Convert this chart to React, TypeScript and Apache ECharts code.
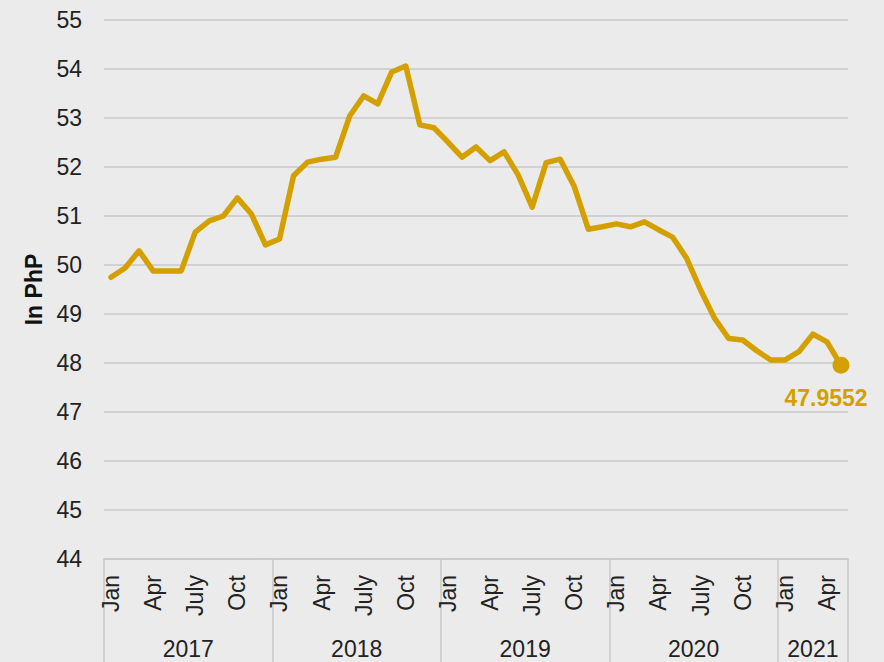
import React, { useEffect, useRef } from "react";
import * as echarts from "echarts";

const monthNames = ["Jan", "Feb", "Mar", "Apr", "May", "Jun", "July", "Aug", "Sep", "Oct", "Nov", "Dec"];
const shownMonths = ["Jan", "Apr", "July", "Oct"];
const years = ["2017", "2018", "2019", "2020", "2021"];
const monthsPerYear = [12, 12, 12, 12, 5];

const rate2017 = [49.75, 49.94, 50.29, 49.88, 49.88, 49.88, 50.67, 50.9, 51.0, 51.37, 51.04, 50.41];
const rate2018 = [50.53, 51.82, 52.1, 52.16, 52.2, 53.04, 53.45, 53.29, 53.94, 54.06, 52.86, 52.8];
const rate2019 = [52.51, 52.2, 52.41, 52.13, 52.31, 51.84, 51.18, 52.09, 52.16, 51.6, 50.73, 50.78];
const rate2020 = [50.84, 50.78, 50.88, 50.72, 50.57, 50.14, 49.49, 48.91, 48.5, 48.47, 48.25, 48.06];
const rate2021 = [48.06, 48.23, 48.59, 48.43, 47.9552];

const yMin = 44;
const yMax = 55;
const yStep = 1;

const FONT = "'Liberation Sans', Arial, Helvetica, sans-serif";
const GOLD = "#D4A000";
const GRID = "#C8C8C8";
const TEXT = "#222222";

export default function App() {
  const ref = useRef<HTMLDivElement>(null);

  useEffect(() => {
    if (!ref.current) return;
    const chart = echarts.init(ref.current, null, { renderer: "svg" });

    const rates = [...rate2017, ...rate2018, ...rate2019, ...rate2020, ...rate2021];
    const categories: string[] = [];
    years.forEach((y, yi) => {
      monthNames.slice(0, monthsPerYear[yi]).forEach((m) => categories.push(m + " " + y));
    });
    const total = categories.length;

    const boundaries: number[] = [0];
    const centers: number[] = [];
    let acc = 0;
    monthsPerYear.forEach((n) => {
      centers.push(acc + n / 2);
      acc += n;
      boundaries.push(acc);
    });

    const last = rates.length - 1;
    const seriesData = rates.map((v, i) =>
      i === last
        ? {
            value: v,
            symbol: "circle",
            symbolSize: 17,
            itemStyle: { color: GOLD },
            label: {
              show: true,
              position: "bottom",
              distance: 13,
              offset: [-15, 0],
              formatter: String(v),
              color: GOLD,
              fontWeight: "bold",
              fontSize: 23,
              fontFamily: FONT,
            },
          }
        : v
    );

    chart.setOption({
      animation: false,
      backgroundColor: "#EBEBEB",
      grid: { left: 104, right: 36, top: 20, bottom: 103, containLabel: false },
      xAxis: [
        {
          type: "category",
          data: categories,
          boundaryGap: true,
          position: "bottom",
          axisLine: { show: true, lineStyle: { color: GRID, width: 1.5 } },
          axisTick: { show: false },
          splitLine: { show: false },
          axisLabel: {
            interval: 0,
            rotate: 90,
            margin: 16,
            fontSize: 23,
            color: TEXT,
            fontFamily: FONT,
            formatter: (val: string) => {
              const m = val.split(" ")[0];
              return shownMonths.includes(m) ? m : "";
            },
          },
        },
        {
          type: "value",
          min: 0,
          max: total,
          position: "bottom",
          axisLine: { show: false },
          splitLine: { show: false },
          axisTick: {
            show: true,
            customValues: boundaries,
            length: 103,
            lineStyle: { color: GRID, width: 1.5 },
          },
          axisLabel: {
            show: true,
            customValues: centers,
            margin: 78,
            fontSize: 23,
            color: TEXT,
            fontFamily: FONT,
            formatter: (v: number) => {
              const idx = centers.findIndex((c) => Math.abs(c - v) < 1e-6);
              return idx >= 0 ? years[idx] : "";
            },
          },
        },
      ],
      yAxis: {
        type: "value",
        min: yMin,
        max: yMax,
        interval: yStep,
        name: "In PhP",
        nameLocation: "middle",
        nameRotate: 90,
        nameGap: 58,
        nameTextStyle: { fontSize: 23, fontWeight: "bold", color: "#111", fontFamily: FONT },
        axisLine: { show: false },
        axisTick: { show: false },
        axisLabel: { fontSize: 23, color: TEXT, margin: 22, fontFamily: FONT },
        splitLine: { show: true, lineStyle: { color: GRID, width: 1.5 } },
      },
      series: [
        {
          type: "line",
          xAxisIndex: 0,
          data: seriesData,
          symbol: "none",
          showSymbol: true,
          lineStyle: { color: GOLD, width: 5.5, join: "round", cap: "round" },
          itemStyle: { color: GOLD },
          clip: false,
        },
      ],
    });

    return () => chart.dispose();
  }, []);

  return (
    <div
      ref={ref}
      style={{ position: "fixed", left: 0, top: 0, width: 884, height: 662 }}
    />
  );
}
